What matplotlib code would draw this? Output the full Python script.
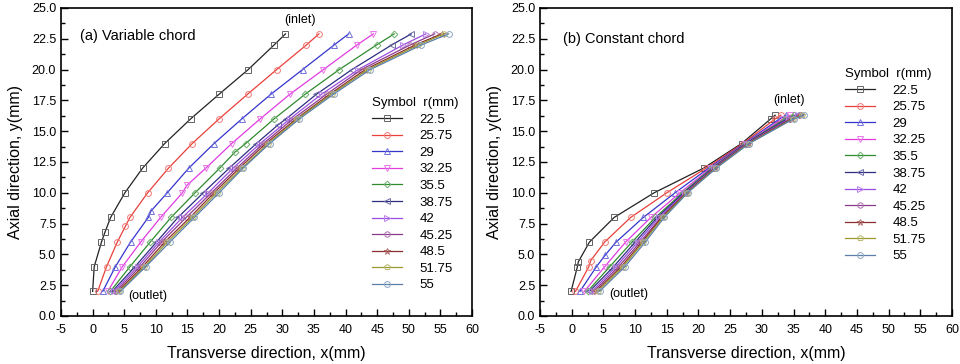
import matplotlib
matplotlib.use("Agg")
import matplotlib.pyplot as plt
from matplotlib.ticker import MultipleLocator, FormatStrFormatter
from matplotlib.colors import to_rgb

plt.rcParams['font.family'] = ['Liberation Sans', 'DejaVu Sans']
plt.rcParams['axes.unicode_minus'] = False

radii = ['22.5', '25.75', '29', '32.25', '35.5', '38.75', '42', '45.25', '48.5', '51.75', '55']

# ---- (a) Variable chord: x at each y level for each radius ----
ya = [2, 4, 6, 8, 10, 12, 14, 16, 18, 20, 22, 22.9]
xa = [
    [0.0, 0.25, 1.4, 2.85, 5.1, 7.9, 11.4, 15.5, 20.0, 24.6, 28.7, 30.5],
    [0.8, 2.2, 3.9, 5.9, 8.7, 12.0, 15.75, 20.0, 24.5, 29.1, 33.8, 35.8],
    [1.6, 3.6, 6.0, 8.8, 11.8, 15.2, 19.2, 23.6, 28.2, 33.2, 38.2, 40.5],
    [2.4, 4.7, 7.6, 10.75, 14.2, 17.9, 22.0, 26.5, 31.2, 36.5, 41.8, 44.4],
    [2.8, 5.9, 9.1, 12.4, 16.2, 20.1, 24.2, 28.7, 33.6, 39.0, 44.9, 47.7],
    [3.1, 6.7, 10.1, 13.5, 17.5, 21.6, 25.9, 30.6, 35.4, 41.0, 47.3, 50.4],
    [3.4, 7.1, 10.5, 14.2, 18.3, 22.2, 26.5, 31.2, 36.2, 42.0, 49.1, 52.7],
    [3.7, 7.5, 10.9, 14.8, 18.8, 22.8, 27.0, 31.7, 37.0, 42.5, 50.2, 54.1],
    [4.0, 7.9, 11.4, 15.4, 19.2, 23.2, 27.4, 32.2, 37.5, 43.1, 51.0, 55.2],
    [4.2, 8.2, 11.8, 15.8, 19.6, 23.6, 27.8, 32.4, 37.8, 43.5, 51.5, 55.6],
    [4.4, 8.4, 12.2, 16.1, 20.0, 23.8, 28.0, 32.7, 38.1, 43.9, 52.0, 56.3],
]
# extra intermediate points (x, y) on some curves
extra_a = {0: (1.95, 6.8), 1: (5.2, 7.3), 2: (9.2, 8.5), 3: (14.9, 10.6), 4: (22.5, 13.3), 5: (29.3, 15.5)}

# ---- (b) Constant chord ----
yb = [2, 4, 6, 8, 10, 12, 14, 16, 16.3]
xb = [
    [-0.1, 0.9, 2.8, 6.7, 13.0, 20.8, 26.8, 31.4, 32.1],
    [0.6, 2.7, 5.2, 9.3, 15.0, 21.2, 27.0, 32.1, 33.0],
    [1.3, 3.9, 7.0, 11.3, 16.3, 21.6, 27.2, 32.8, 33.8],
    [2.0, 5.2, 8.5, 12.5, 17.1, 21.9, 27.3, 33.3, 34.5],
    [2.5, 6.0, 9.5, 13.2, 17.5, 22.1, 27.4, 33.7, 35.0],
    [2.8, 6.6, 10.0, 13.5, 17.7, 22.3, 27.5, 34.0, 35.4],
    [3.2, 7.0, 10.4, 13.8, 17.9, 22.4, 27.6, 34.3, 35.7],
    [3.5, 7.4, 10.8, 14.1, 18.0, 22.5, 27.7, 34.5, 36.0],
    [3.8, 7.8, 11.1, 14.2, 18.1, 22.6, 27.8, 34.7, 36.2],
    [4.1, 8.1, 11.3, 14.4, 18.2, 22.7, 27.9, 34.9, 36.4],
    [4.4, 8.4, 11.6, 14.6, 18.3, 22.8, 28.0, 35.0, 36.6],
]
extra_b = {0: (1.05, 4.4), 1: (3.0, 4.5), 2: (5.3, 4.95)}

colors = ['#222222', '#e8403a', '#3535cc', '#e03ce0', '#2e8b2e', '#2e2e80',
          '#9b4de0', '#8b3a8b', '#8b2d2d', '#9a9a30', '#5a7fa8']
markers = ['s', 'o', '^', 'v', 'D', '<', '>', 'h', '*', 'p', 'o']
msizes = [3.8, 4.2, 4.4, 4.4, 3.4, 4.4, 4.4, 4.2, 5.0, 4.2, 4.2]


def lighten(c, f=0.3):
    r, g, b = to_rgb(c)
    return (r + (1 - r) * f, g + (1 - g) * f, b + (1 - b) * f)


def merged(xs, ys, extra):
    pts = list(zip(xs, ys))
    if extra is not None:
        pts.append(extra)
    pts.sort(key=lambda p: p[1])
    return [p[0] for p in pts], [p[1] for p in pts]


fig = plt.figure(figsize=(9.6, 3.64), dpi=100)
axA = fig.add_axes([61 / 960, 1 - 316 / 364, 411 / 960, 308 / 364])
axB = fig.add_axes([540 / 960, 1 - 316 / 364, 412 / 960, 308 / 364])


def style(ax):
    ax.set_xlim(-5, 60)
    ax.set_ylim(0, 25)
    ax.xaxis.set_major_locator(MultipleLocator(5))
    ax.xaxis.set_minor_locator(MultipleLocator(2.5))
    ax.yaxis.set_major_locator(MultipleLocator(2.5))
    ax.yaxis.set_minor_locator(MultipleLocator(1.25))
    ax.yaxis.set_major_formatter(FormatStrFormatter('%.1f'))
    ax.tick_params(which='both', direction='in', top=False, right=False, labelsize=9, width=1.0)
    ax.tick_params(which='major', length=5)
    ax.tick_params(which='minor', length=3)
    ax.tick_params(axis='x', pad=6)
    for s in ax.spines.values():
        s.set_linewidth(1.2)
    ax.set_xlabel('Transverse direction, x(mm)', fontsize=11.5, labelpad=7)
    ax.set_ylabel('Axial direction, y(mm)', fontsize=11.5, labelpad=6)


def draw(ax, xs_all, ys, extras):
    handles = []
    for i in range(len(radii)):
        x, y = merged(xs_all[i], ys, extras.get(i))
        h, = ax.plot(x, y, color=colors[i], lw=0.9, marker=markers[i], ms=msizes[i],
                     mfc='none', mec=lighten(colors[i], 0.3), mew=0.7, label=radii[i])
        handles.append(h)
    return handles


hA = draw(axA, xa, ya, extra_a)
hB = draw(axB, xb, yb, extra_b)
style(axA)
style(axB)

axA.text(-2.0, 22.7, '(a) Variable chord', fontsize=10.5, va='center', ha='left')
axA.text(32.8, 24.0, '(inlet)', fontsize=9, ha='center', va='center')
axA.text(8.7, 1.65, '(outlet)', fontsize=9, ha='center', va='center')

axB.text(-1.4, 22.5, '(b) Constant chord', fontsize=10.5, va='center', ha='left')
axB.text(34.3, 17.5, '(inlet)', fontsize=9, ha='center', va='center')
axB.text(9.0, 1.8, '(outlet)', fontsize=9, ha='center', va='center')


def legend(ax, handles, ax_x, ax_y):
    lg = ax.legend(handles=handles, loc='upper left', bbox_to_anchor=(ax_x, ax_y),
                   frameon=False, fontsize=9.5, title='Symbol  r(mm)', title_fontsize=9.5,
                   handlelength=2.3, handletextpad=1.3, labelspacing=0.33,
                   borderpad=0, borderaxespad=0, alignment='left')
    return lg


legend(axA, hA, (372 - 61) / 411, (316 - 97) / 308)
legend(axB, hB, (845 - 540) / 412, (316 - 68) / 308)

fig.savefig('out.png', dpi=100)
